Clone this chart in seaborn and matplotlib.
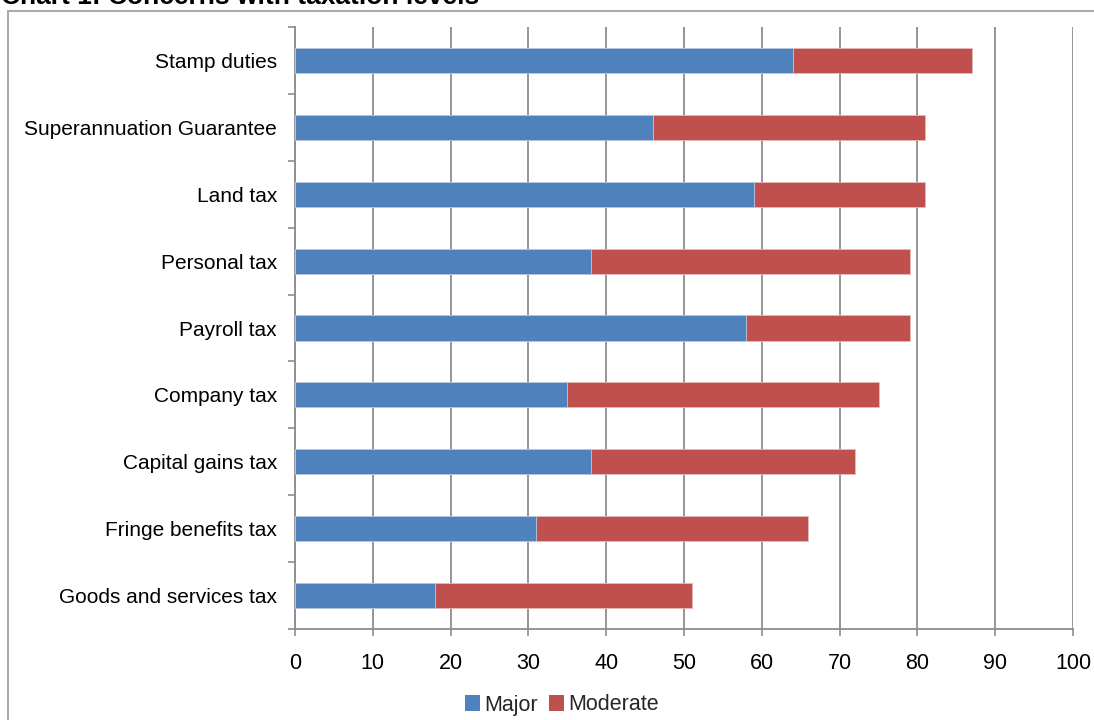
import matplotlib
matplotlib.use("Agg")
import matplotlib.pyplot as plt
import seaborn as sns
import pandas as pd
import numpy as np
from matplotlib.patches import Rectangle, Patch
from matplotlib.ticker import FixedLocator

categories = ["Stamp duties", "Superannuation Guarantee", "Land tax", "Personal tax",
              "Payroll tax", "Company tax", "Capital gains tax", "Fringe benefits tax",
              "Goods and services tax"]
major = [64, 46, 59, 38, 58, 35, 38, 31, 18]
moderate = [23, 35, 22, 41, 21, 40, 34, 35, 33]
x_ticks = list(range(0, 101, 10))
title = "Chart 1: Concerns with taxation levels"

BLUE = "#4F81BD"
RED = "#C0504D"
GRID = "#8C8C8C"
FS = 15.5

sns.set_theme(style="white")
plt.rcParams['font.family'] = ['Liberation Sans', 'DejaVu Sans']

df = pd.DataFrame({"category": categories, "Major": major, "Moderate": moderate})
df["total"] = df["Major"] + df["Moderate"]

fig = plt.figure(figsize=(10.94, 7.2), dpi=100)
ax = fig.add_axes([295/1094, 1 - 629/720, (1073-295)/1094, (629-27)/720])

sns.barplot(data=df, y="category", x="total", order=categories, orient="h",
            color=RED, width=0.375, ax=ax, edgecolor="#E6B9B8", linewidth=0.6,
            saturation=1, zorder=3)
sns.barplot(data=df, y="category", x="Major", order=categories, orient="h",
            color=BLUE, width=0.375, ax=ax, edgecolor="#B9CDE5", linewidth=0.6,
            saturation=1, zorder=4)

ax.set_xlim(0, 100)
ax.set_ylim(len(categories) - 0.5, -0.5)
ax.set_xticks(x_ticks)
ax.set_xticklabels([str(t) for t in x_ticks], fontsize=FS, color="black")
ax.set_yticks(range(len(categories)))
ax.set_yticklabels(categories, fontsize=FS - 0.5, color="black")
ax.yaxis.set_minor_locator(FixedLocator(np.arange(-0.5, len(categories), 1.0)))
ax.tick_params(axis="y", which="major", length=0, pad=13)
ax.tick_params(axis="y", which="minor", length=5, color=GRID, width=1.2, left=True)
ax.tick_params(axis="x", which="major", length=5, color=GRID, width=1.2, bottom=True, pad=12)
ax.set_xlabel("")
ax.set_ylabel("")

ax.grid(axis="x", color=GRID, linewidth=1.3, zorder=0)
ax.set_axisbelow(True)
for s in ["top", "right"]:
    ax.spines[s].set_visible(False)
for s in ["left", "bottom"]:
    ax.spines[s].set_color(GRID)
    ax.spines[s].set_linewidth(1.3)

# chart area frame
fig.patches.append(Rectangle((8/1094, -0.05), 1.1, 1 - 11/720 + 0.05,
                             transform=fig.transFigure, fill=False,
                             edgecolor="#ABABAB", linewidth=1.5, zorder=0))

fig.text(1/1094, 1 - 3.5/720, title, fontsize=19, fontweight="bold",
         ha="left", va="baseline", color="black")

handles = [Patch(facecolor=BLUE, edgecolor="none", label="Major"),
           Patch(facecolor=RED, edgecolor="none", label="Moderate")]
fig.legend(handles=handles, loc="center", bbox_to_anchor=(562/1094, 1 - 705/720),
           ncol=2, frameon=False, fontsize=FS, handlelength=0.7, handleheight=0.7,
           handletextpad=0.2, columnspacing=0.5, borderpad=0)

fig.savefig("out.png", dpi=100)
